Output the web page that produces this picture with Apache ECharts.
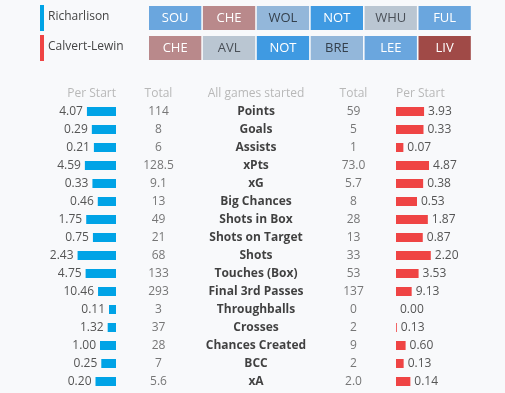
<!DOCTYPE html>
<html><head><meta charset="utf-8">
<script src="https://cdn.jsdelivr.net/npm/echarts@6/dist/echarts.min.js"></script>
<style>html,body{margin:0;padding:0;background:#f8f9fb}#c{width:505px;height:393px}</style>
</head><body><div id="c"></div>
<script>
const players = ['Richarlison', 'Calvert-Lewin'];
const playerColors = ['#00a3e6', '#ef4444'];
const fixturesA = ['SOU', 'CHE', 'WOL', 'NOT', 'WHU', 'FUL'];
const fixturesB = ['CHE', 'AVL', 'NOT', 'BRE', 'LEE', 'LIV'];
const difficultyA = [2, 5, 3, 1, 4, 2];
const difficultyB = [5, 4, 1, 3, 2, 6];
const headers = ['Per Start', 'Total', 'All games started', 'Total', 'Per Start'];
const stats = ['Points', 'Goals', 'Assists', 'xPts', 'xG', 'Big Chances', 'Shots in Box', 'Shots on Target', 'Shots', 'Touches (Box)', 'Final 3rd Passes', 'Throughballs', 'Crosses', 'Chances Created', 'BCC', 'xA'];
const leftPerStart = [4.07, 0.29, 0.21, 4.59, 0.33, 0.46, 1.75, 0.75, 2.43, 4.75, 10.46, 0.11, 1.32, 1.00, 0.25, 0.20];
const leftTotal = ['114', '8', '6', '128.5', '9.1', '13', '49', '21', '68', '133', '293', '3', '37', '28', '7', '5.6'];
const rightTotal = ['59', '5', '1', '73.0', '5.7', '8', '28', '13', '33', '53', '137', '0', '2', '9', '2', '2.0'];
const rightPerStart = [3.93, 0.33, 0.07, 4.87, 0.38, 0.53, 1.87, 0.87, 2.20, 3.53, 9.13, 0.00, 0.13, 0.60, 0.13, 0.14];
const barScale = [5.6, 0.48, 0.38, 5.9, 0.56, 1.01, 2.35, 1.3, 2.53, 6.25, 23.3, 0.63, 6.35, 2.5, 0.68, 0.39];

const diffFill = {1: '#3f9ae2', 2: '#6aa6de', 3: '#93b7da', 4: '#bac6d2', 5: '#b9898b', 6: '#a04a47'};
const diffText = {1: '#ffffff', 2: '#ffffff', 3: '#34404c', 4: '#4a5058', 5: '#ffffff', 6: '#ffffff'};
const FONT = '"Open Sans", sans-serif';

const fixtureData = [];
[fixturesA, fixturesB].forEach((list, p) => {
  const diff = p === 0 ? difficultyA : difficultyB;
  list.forEach((t, c) => fixtureData.push([c, p, t, diff[c]]));
});

const chart = echarts.init(document.getElementById('c'), null, {renderer: 'canvas'});
const hidden = {show: false};
const catY = (idx) => ({type: 'category', gridIndex: idx, data: stats, inverse: true, show: false});

const midSeries = (col, arr, bold) => ({
  type: 'scatter', xAxisIndex: 3, yAxisIndex: 3, symbolSize: 1,
  itemStyle: {color: 'rgba(0,0,0,0)'}, silent: true,
  data: arr.map((v, i) => [col, stats[i], v]),
  label: {show: true, position: 'inside', formatter: p => p.value[2],
    fontFamily: FONT, fontSize: 12, fontWeight: bold ? 'bold' : 'normal',
    color: bold ? '#111' : '#555'}
});

const graphic = [];
players.forEach((name, i) => {
  graphic.push({type: 'rect', left: 40, top: 5 + i * 30, shape: {width: 4, height: 26}, style: {fill: playerColors[i]}});
  graphic.push({type: 'text', x: 48, y: 17 + i * 30, style: {text: name, fill: '#444', font: '12px ' + FONT, align: 'left', verticalAlign: 'middle'}});
});
const headerX = [116, 158.5, 256, 353.5, 396];
const headerAlign = ['right', 'center', 'center', 'center', 'left'];
headers.forEach((h, i) => {
  graphic.push({type: 'text', x: headerX[i], y: 94, style: {text: h, fill: '#b8b8b8', font: '12px ' + FONT, align: headerAlign[i], verticalAlign: 'middle'}});
});

chart.setOption({
  animation: false,
  backgroundColor: '#f8f9fb',
  graphic: graphic,
  grid: [
    {left: 148.2, top: 3, width: 323.4, height: 60},
    {left: 76, top: 102.5, width: 40, height: 288},
    {left: 396, top: 102.5, width: 40, height: 288},
    {left: 109.75, top: 102.5, width: 292.5, height: 288}
  ],
  xAxis: [
    {type: 'category', gridIndex: 0, data: [0, 1, 2, 3, 4, 5], show: false},
    {type: 'value', gridIndex: 1, min: 0, max: 1, inverse: true, show: false},
    {type: 'value', gridIndex: 2, min: 0, max: 1, show: false},
    {type: 'category', gridIndex: 3, data: ['L', 'M', 'R'], show: false}
  ],
  yAxis: [
    {type: 'category', gridIndex: 0, data: players, inverse: true, show: false},
    catY(1), catY(2), catY(3)
  ],
  series: [
    {
      type: 'custom', xAxisIndex: 0, yAxisIndex: 0, data: fixtureData,
      renderItem: (params, api) => {
        const pt = api.coord([api.value(0), api.value(1)]);
        const sz = api.size([1, 1]);
        const w = sz[0] - 1.6, h = 24;
        const d = api.value(3);
        return {
          type: 'rect',
          shape: {x: pt[0] - w / 2, y: pt[1] - h / 2, width: w, height: h},
          style: {fill: diffFill[d]},
          textContent: {style: {text: fixtureData[params.dataIndex][2], fill: diffText[d], font: '13px ' + FONT}},
          textConfig: {position: 'inside'}
        };
      }
    },
    {
      type: 'bar', xAxisIndex: 1, yAxisIndex: 1, barWidth: 9,
      data: leftPerStart.map((v, i) => v / barScale[i]),
      itemStyle: {color: '#00a3e6'},
      label: {show: true, position: 'left', distance: 4, formatter: p => leftPerStart[p.dataIndex].toFixed(2),
        fontFamily: FONT, fontSize: 12, color: '#555'}
    },
    {
      type: 'bar', xAxisIndex: 2, yAxisIndex: 2, barWidth: 9,
      data: rightPerStart.map((v, i) => v / barScale[i]),
      itemStyle: {color: '#ef4444'},
      label: {show: true, position: 'right', distance: 4, formatter: p => rightPerStart[p.dataIndex].toFixed(2),
        fontFamily: FONT, fontSize: 12, color: '#555'}
    },
    midSeries('L', leftTotal, false),
    midSeries('M', stats, true),
    midSeries('R', rightTotal, false)
  ]
});
</script></body></html>
